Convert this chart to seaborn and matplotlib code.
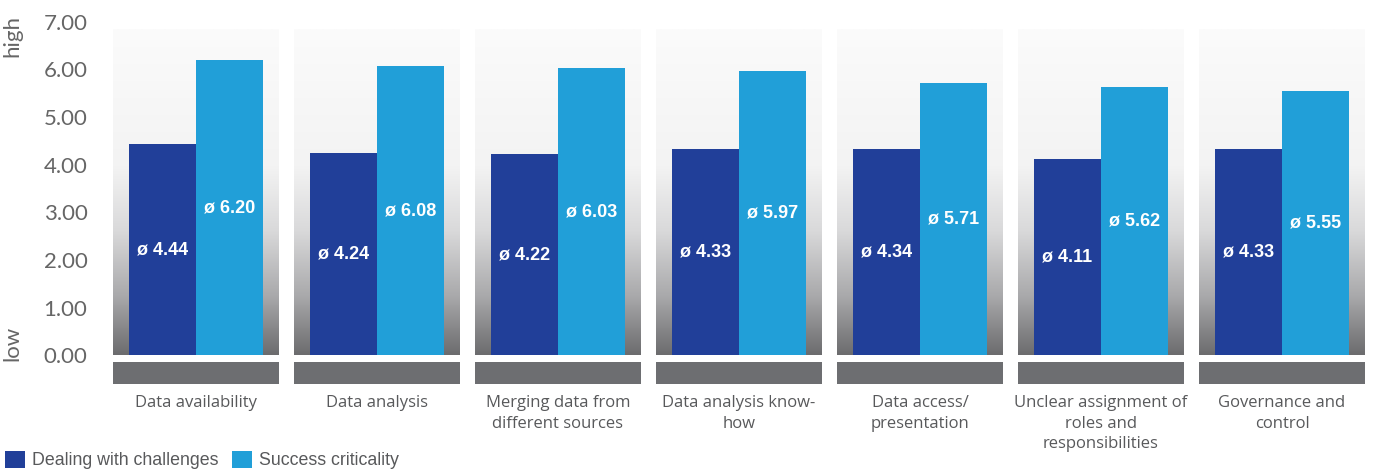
import numpy as np
import pandas as pd
import matplotlib
matplotlib.use("Agg")
import matplotlib.pyplot as plt
from matplotlib.colors import LinearSegmentedColormap
from matplotlib.patches import Rectangle
import seaborn as sns

# Survey results: mean ratings on a 0-7 scale
categories = [
    "Data availability",
    "Data analysis",
    "Merging data from\ndifferent sources",
    "Data analysis know-\nhow",
    "Data access/\npresentation",
    "Unclear assignment of\nroles and\nresponsibilities",
    "Governance and\ncontrol",
]
challenges = [4.44, 4.24, 4.22, 4.33, 4.34, 4.11, 4.33]
criticality = [6.20, 6.08, 6.03, 5.97, 5.71, 5.62, 5.55]
series_names = ["Dealing with challenges", "Success criticality"]
yticks = [0, 1, 2, 3, 4, 5, 6, 7]

DARK = "#213F99"
LIGHT = "#219FD8"
BAND = "#6D6E71"
TICK_GREY = "#666666"
LABEL_GREY = "#58595B"

df = pd.DataFrame({
    "category": categories * 2,
    "value": challenges + criticality,
    "series": [series_names[0]] * len(categories) + [series_names[1]] * len(categories),
})

sns.set_theme(style="white")
plt.rcParams["font.family"] = ["Liberation Sans", "DejaVu Sans"]

fig = plt.figure(figsize=(13.75, 4.73), dpi=100)
# axes: x from -0.5..6.5 spans the panels, y from -0.62 .. 7.0
ax = fig.add_axes([105.5 / 1375, 1 - 385 / 473, (1372.5 - 105.5) / 1375, (385 - 21.7) / 473])

ymin, ymax = -0.62, 7.0
panel_w = 166 / 181
panel_top = 6.83

# background panels with a vertical grey gradient towards the baseline
grad = LinearSegmentedColormap.from_list(
    "panel",
    [(0.0, "#6C6C6E"), (0.18, "#A9A9AB"), (0.38, "#D9D9DA"), (0.58, "#F3F3F3"), (1.0, "#FBFBFB")],
)
gimg = np.linspace(0, 1, 256).reshape(-1, 1)
for i in range(len(categories)):
    x0 = i - panel_w / 2
    ax.imshow(gimg, cmap=grad, origin="lower", aspect="auto",
              extent=(x0, x0 + panel_w, 0, panel_top), zorder=0, interpolation="bilinear")
    ax.add_patch(Rectangle((x0, -0.59), panel_w, 0.46, facecolor=BAND, edgecolor="none", zorder=1))

sns.barplot(data=df, x="category", y="value", hue="series", order=categories,
            hue_order=series_names, palette=[DARK, LIGHT], width=0.74, gap=0,
            saturation=1, ax=ax, legend=False, zorder=2, edgecolor="none", linewidth=0)

# value labels in the middle of each bar
for container in ax.containers:
    for bar in container:
        h = bar.get_height()
        ax.text(bar.get_x() + bar.get_width() / 2, h / 2, f"ø {h:.2f}",
                ha="center", va="center", color="white", fontsize=13,
                fontweight="bold", zorder=3)

ax.set_xlim(-0.5, len(categories) - 0.5)
ax.set_ylim(ymin, ymax)
ax.set_yticks(yticks)
ax.set_yticklabels([f"{v:.2f}" for v in yticks], fontsize=16, color=TICK_GREY,
                   family=["Lato", "DejaVu Sans"])
ax.tick_params(axis="y", length=0, pad=13)
ax.set_xticks(range(len(categories)))
ax.set_xticklabels(categories, fontsize=12, color=LABEL_GREY, family=["Open Sans", "DejaVu Sans"],
                   linespacing=1.4, va="top")
ax.tick_params(axis="x", length=0, pad=7)
for lbl in ax.get_xticklabels():
    lbl.set_multialignment("center")
ax.set_xlabel("")
ax.set_ylabel("")
for s in ax.spines.values():
    s.set_visible(False)
ax.set_facecolor("none")

# scale-end annotations
fig.text(12.5 / 1375, 1 - 36 / 473, "high", rotation=90, ha="center", va="center",
         fontsize=16, color=TICK_GREY, family=["Lato", "DejaVu Sans"])
fig.text(12.5 / 1375, 1 - 343 / 473, "low", rotation=90, ha="center", va="center",
         fontsize=16, color=TICK_GREY, family=["Lato", "DejaVu Sans"])

# legend
handles = [Rectangle((0, 0), 1, 1, facecolor=c, edgecolor="none") for c in (DARK, LIGHT)]
fig.legend(handles, series_names, loc="center left", bbox_to_anchor=(5 / 1375, 1 - 460 / 473),
           ncol=2, frameon=False, fontsize=12.8, handlelength=1.12, handleheight=1.12,
           handletextpad=0.4, columnspacing=0.75, labelcolor=LABEL_GREY,
           borderaxespad=0, borderpad=0)

fig.savefig("out.png", dpi=100)
